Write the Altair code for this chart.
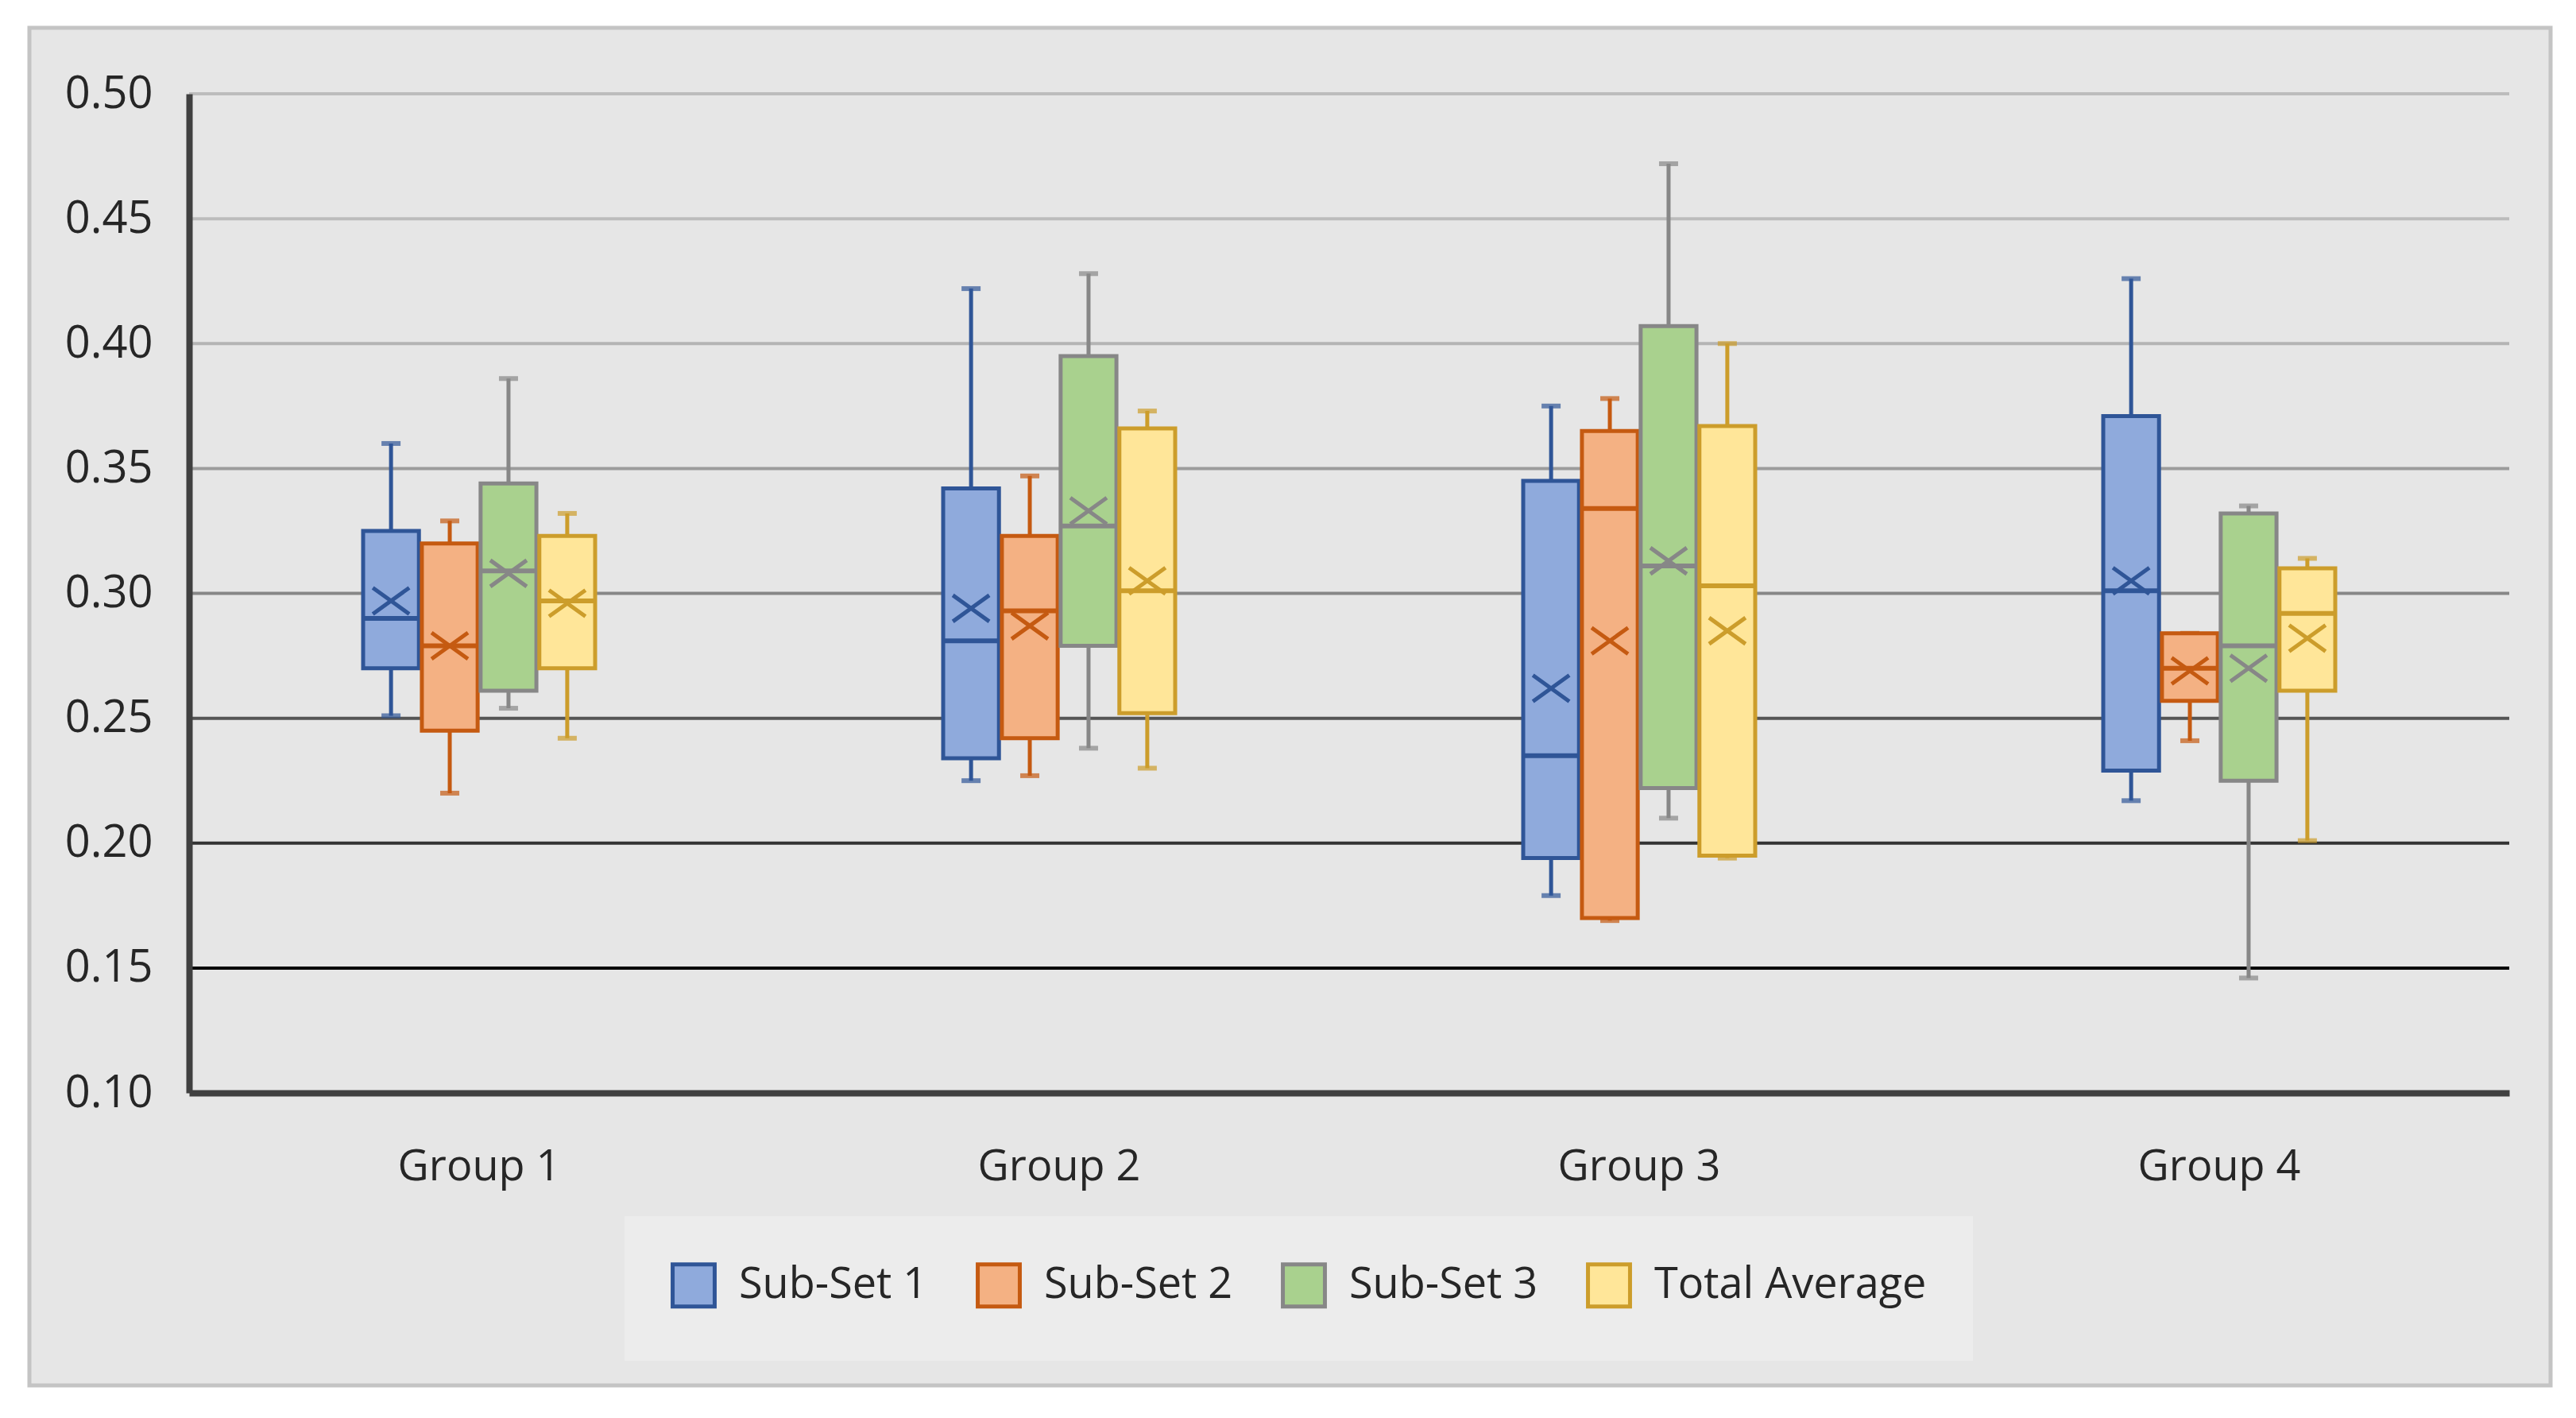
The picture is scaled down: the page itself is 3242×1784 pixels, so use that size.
import altair as alt
import pandas as pd

groups = ["Group 1", "Group 2", "Group 3", "Group 4"]
series = ["Sub-Set 1", "Sub-Set 2", "Sub-Set 3", "Total Average"]

whisker_low = {
    "Sub-Set 1": [0.251, 0.225, 0.179, 0.217],
    "Sub-Set 2": [0.220, 0.227, 0.169, 0.241],
    "Sub-Set 3": [0.254, 0.238, 0.210, 0.146],
    "Total Average": [0.242, 0.230, 0.194, 0.201],
}
q1 = {
    "Sub-Set 1": [0.270, 0.234, 0.194, 0.229],
    "Sub-Set 2": [0.245, 0.242, 0.170, 0.257],
    "Sub-Set 3": [0.261, 0.279, 0.222, 0.225],
    "Total Average": [0.270, 0.252, 0.195, 0.261],
}
median = {
    "Sub-Set 1": [0.290, 0.281, 0.235, 0.301],
    "Sub-Set 2": [0.279, 0.293, 0.334, 0.270],
    "Sub-Set 3": [0.309, 0.327, 0.311, 0.279],
    "Total Average": [0.297, 0.301, 0.303, 0.292],
}
q3 = {
    "Sub-Set 1": [0.325, 0.342, 0.345, 0.371],
    "Sub-Set 2": [0.320, 0.323, 0.365, 0.284],
    "Sub-Set 3": [0.344, 0.395, 0.407, 0.332],
    "Total Average": [0.323, 0.366, 0.367, 0.310],
}
whisker_high = {
    "Sub-Set 1": [0.360, 0.422, 0.375, 0.426],
    "Sub-Set 2": [0.329, 0.347, 0.378, 0.284],
    "Sub-Set 3": [0.386, 0.428, 0.472, 0.335],
    "Total Average": [0.332, 0.373, 0.400, 0.314],
}
mean = {
    "Sub-Set 1": [0.297, 0.294, 0.262, 0.305],
    "Sub-Set 2": [0.279, 0.287, 0.281, 0.269],
    "Sub-Set 3": [0.308, 0.333, 0.313, 0.270],
    "Total Average": [0.296, 0.305, 0.285, 0.282],
}

y_ticks = [0.10, 0.15, 0.20, 0.25, 0.30, 0.35, 0.40, 0.45, 0.50]
grid_values = [0.15, 0.20, 0.25, 0.30, 0.35, 0.40, 0.45, 0.50]

stroke_colors = ["#2f5597", "#c55a11", "#878787", "#cc9d2b"]
fill_colors = ["#8faadc", "#f4b183", "#a9d18e", "#ffe699"]
grid_colors = ["#000000", "#333333", "#555555", "#878787", "#9c9c9c", "#b4b4b4", "#bcbcbc", "#bcbcbc"]

rows = []
for s in series:
    for i, g in enumerate(groups):
        rows.append({
            "Group": g, "Series": s,
            "lo": whisker_low[s][i], "q1": q1[s][i], "med": median[s][i],
            "q3": q3[s][i], "hi": whisker_high[s][i], "mean": mean[s][i],
        })
df = pd.DataFrame(rows)
grid_df = pd.DataFrame({"value": grid_values})

FONT = "Open Sans"
TXT = "#262626"

yscale = alt.Scale(domain=[0.10, 0.50], nice=False, zero=False)
yaxis = alt.Axis(values=y_ticks, format=".2f", title=None, grid=False, ticks=False, tickSize=0,
                 labelFontSize=56, labelFont=FONT, labelColor=TXT, labelPadding=46,
                 domainColor="#404040", domainWidth=8, zindex=2)
xscale = alt.Scale(domain=groups, paddingInner=0.6, paddingOuter=0.3)
xaxis = alt.Axis(title=None, ticks=False, tickSize=0, labelAngle=0, labelFontSize=54, labelFont=FONT,
                 labelColor=TXT, labelPadding=66, labelLimit=600, domainColor="#404040", domainWidth=8, zindex=2)
xoff = alt.XOffset("Series:N", scale=alt.Scale(domain=series, paddingInner=0.05, paddingOuter=0))

stroke_scale = alt.Scale(domain=series, range=stroke_colors)
fill_scale = alt.Scale(domain=series, range=fill_colors)

legend = alt.Legend(orient="none", legendX=548, legendY=1412, direction="horizontal", title=None,
                    symbolType="square", symbolSize=2800, symbolStrokeWidth=5,
                    labelFontSize=54, labelFont=FONT, labelColor=TXT, labelLimit=600,
                    fillColor="#ececec", padding=58, columnPadding=52, labelOffset=28, zindex=2)

X = alt.X("Group:N", scale=xscale, axis=xaxis, sort=groups)

def Y(field):
    return alt.Y(f"{field}:Q", scale=yscale, axis=yaxis, title=None)

def S():
    return alt.Stroke("Series:N", scale=stroke_scale, legend=legend)

frame = alt.Chart(alt.Data(values=[{"k": 1}])).mark_rect(
    fill="#e6e6e6", stroke="#c4c4c4", strokeWidth=5
).encode(x=alt.value(-201), x2=alt.value(2972), y=alt.value(-83), y2=alt.value(1625))

grid = alt.Chart(grid_df).mark_rule(strokeWidth=4).encode(
    y=Y("value"),
    color=alt.Color("value:O", scale=alt.Scale(domain=grid_values, range=grid_colors), legend=None),
)

base = alt.Chart(df)

whisk = base.mark_rule(strokeWidth=5).encode(
    x=X, xOffset=xoff, y=Y("lo"), y2="hi", stroke=S(),
)
cap_lo = base.mark_tick(size=24, thickness=6).encode(
    x=X, xOffset=xoff, y=Y("lo"),
    color=alt.Color("Series:N", scale=stroke_scale, legend=None),
)
cap_hi = base.mark_tick(size=24, thickness=6).encode(
    x=X, xOffset=xoff, y=Y("hi"),
    color=alt.Color("Series:N", scale=stroke_scale, legend=None),
)
box = base.mark_bar(strokeWidth=5).encode(
    x=X, xOffset=xoff, y=Y("q1"), y2="q3",
    fill=alt.Fill("Series:N", scale=fill_scale, legend=legend),
    stroke=S(),
)
med = base.mark_tick(size=68, thickness=6, opacity=1).encode(
    x=X, xOffset=xoff, y=Y("med"),
    color=alt.Color("Series:N", scale=stroke_scale, legend=None),
)
mean_pt = base.mark_point(
    shape="M-1,-0.72L1,0.72M-1,0.72L1,-0.72", size=2100, strokeWidth=5, filled=False, opacity=1
).encode(
    x=X, xOffset=xoff, y=Y("mean"), stroke=S(),
)

chart = alt.layer(frame, grid, whisk, cap_lo, cap_hi, box, med, mean_pt).resolve_scale(
    color="independent"
).properties(
    width=2920, height=1257,
    padding={"left": 230, "top": 110, "right": 60, "bottom": 390},
    autosize=alt.AutoSizeParams(type="none"),
    background="white",
).configure_view(stroke=None)

chart.save("out.html", embed_options={"renderer": "svg", "actions": False})
